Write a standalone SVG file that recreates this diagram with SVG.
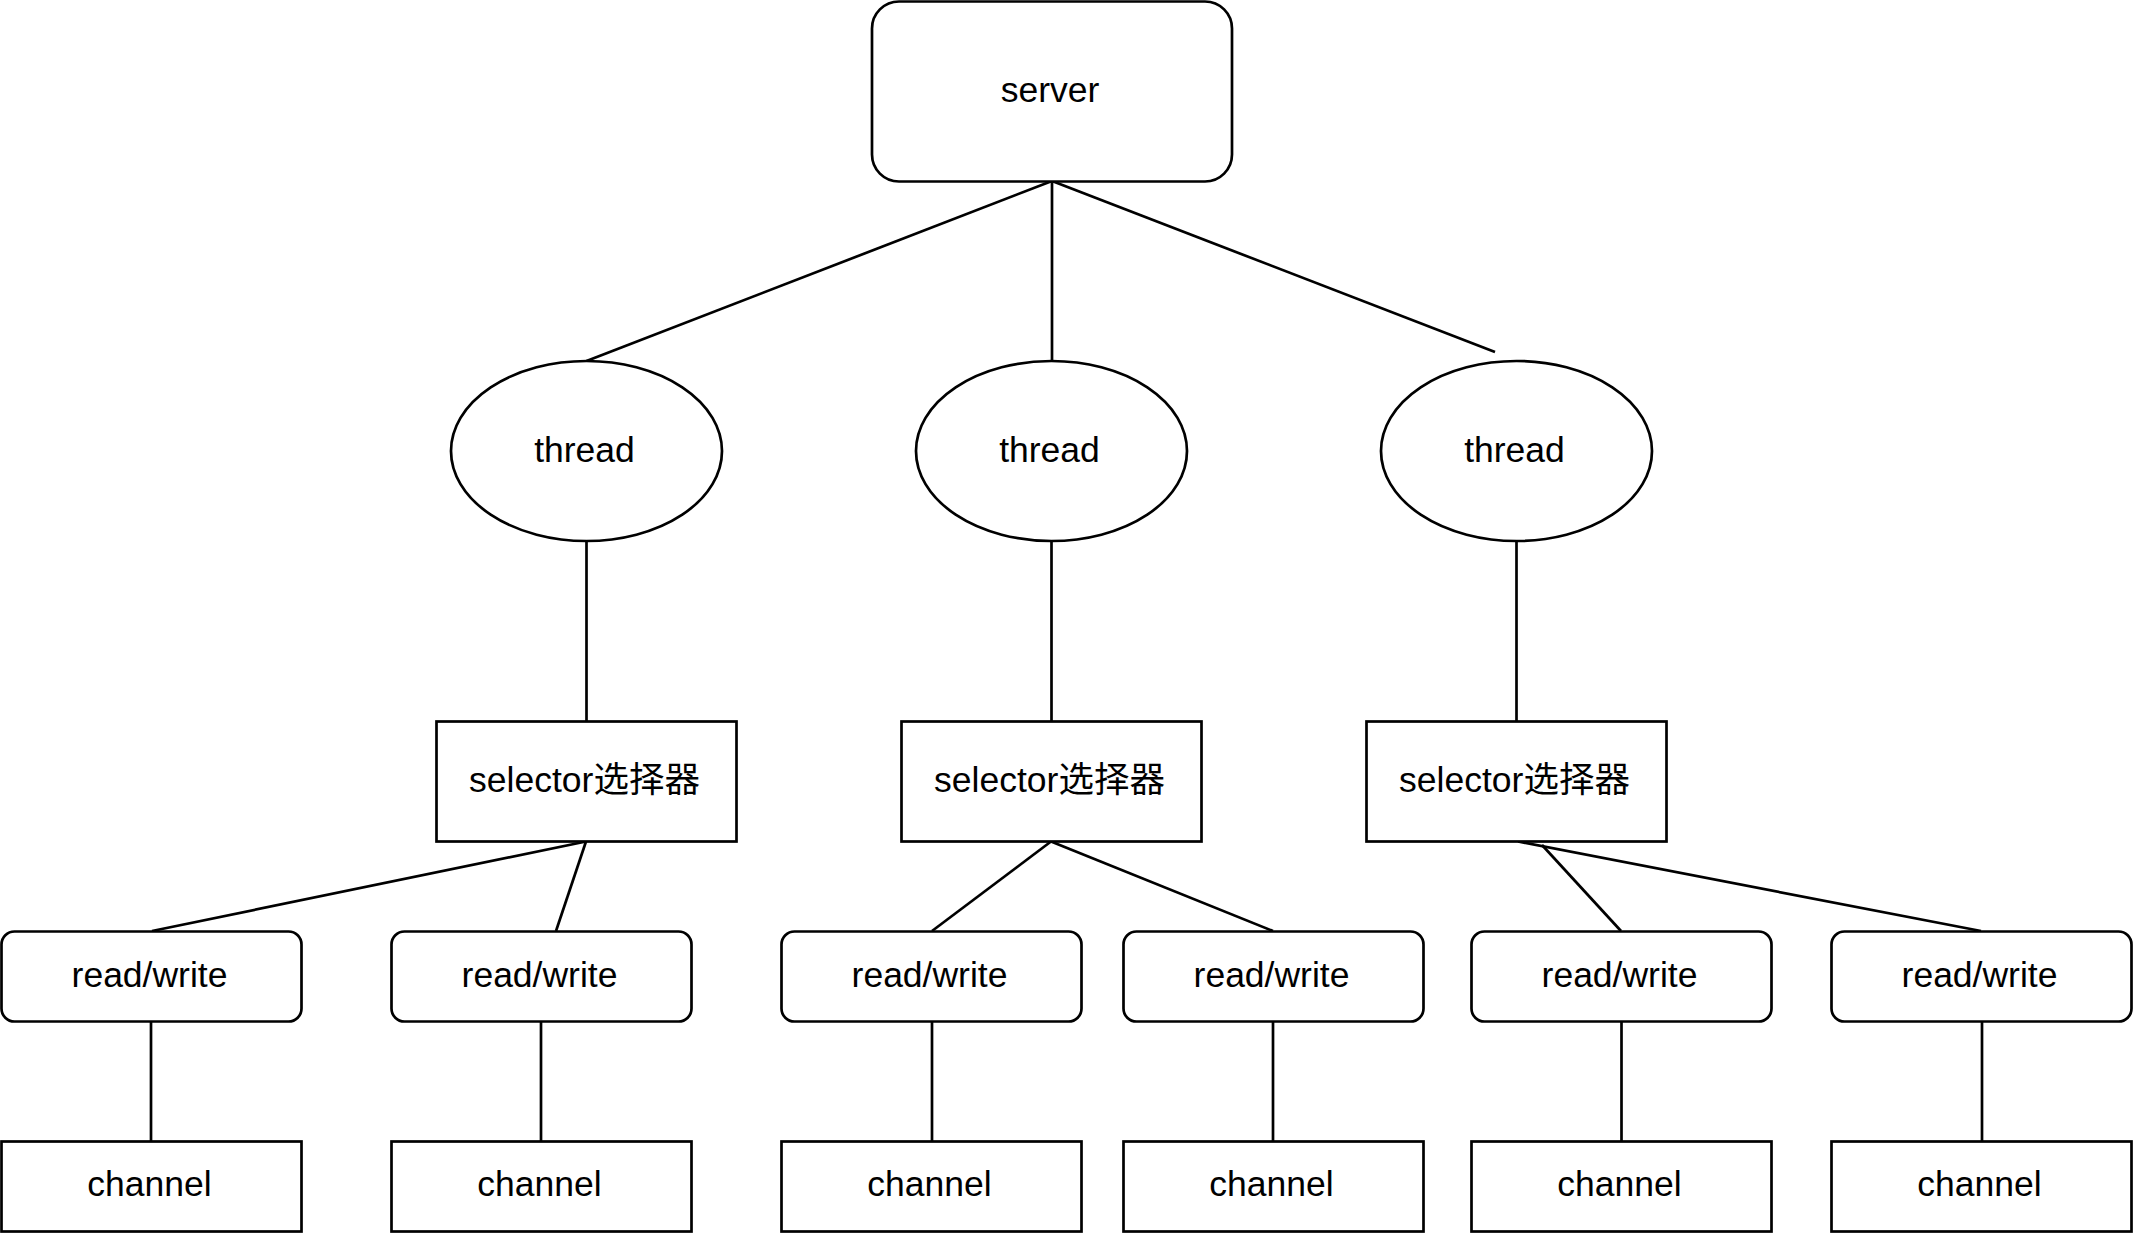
<svg xmlns="http://www.w3.org/2000/svg" width="2133" height="1233" viewBox="0 0 2133 1233">
<style>
.s{fill:#fff;stroke:#000;stroke-width:2.7}
.c{fill:none;stroke:#000;stroke-width:2.7}
text{font-family:"Liberation Sans",Arial,"Noto Sans CJK SC",sans-serif;font-size:35.5px;fill:#000;text-anchor:middle}
</style>
<rect width="2133" height="1233" fill="#fff"/>
<g id="connectors">
<line class="c" x1="1052" y1="181" x2="586.5" y2="361"/>
<line class="c" x1="1052" y1="181" x2="1052" y2="361"/>
<line class="c" x1="1052" y1="181" x2="1495" y2="352"/>
<line class="c" x1="586.5" y1="541" x2="586.5" y2="721"/>
<line class="c" x1="1051.5" y1="541" x2="1051.5" y2="721"/>
<line class="c" x1="1516.5" y1="541" x2="1516.5" y2="721"/>
<line class="c" x1="586" y1="841.5" x2="152" y2="931"/>
<line class="c" x1="586" y1="841.5" x2="556" y2="931"/>
<line class="c" x1="1051" y1="841.5" x2="932" y2="931"/>
<line class="c" x1="1051" y1="841.5" x2="1273" y2="931"/>
<line class="c" x1="1518" y1="841.5" x2="1981" y2="931"/>
<line class="c" x1="1542" y1="845" x2="1621" y2="931"/>
<line class="c" x1="151" y1="1021" x2="151" y2="1141"/>
<line class="c" x1="541" y1="1021" x2="541" y2="1141"/>
<line class="c" x1="932" y1="1021" x2="932" y2="1141"/>
<line class="c" x1="1273" y1="1021" x2="1273" y2="1141"/>
<line class="c" x1="1621.5" y1="1021" x2="1621.5" y2="1141"/>
<line class="c" x1="1982" y1="1021" x2="1982" y2="1141"/>
</g>
<g id="server"><rect class="s" x="872" y="1.5" width="360" height="180" rx="27"/><text x="1050" y="101.5">server</text></g>
<g id="thread1"><ellipse class="s" cx="586.5" cy="451" rx="135.5" ry="90"/><text x="584.5" y="461.5">thread</text></g>
<g id="thread2"><ellipse class="s" cx="1051.5" cy="451" rx="135.5" ry="90"/><text x="1049.5" y="461.5">thread</text></g>
<g id="thread3"><ellipse class="s" cx="1516.5" cy="451" rx="135.5" ry="90"/><text x="1514.5" y="461.5">thread</text></g>
<g id="selector1"><rect class="s" x="436.5" y="721.5" width="300" height="120"/><text x="584.5" y="791.5">selector选择器</text></g>
<g id="selector2"><rect class="s" x="901.5" y="721.5" width="300" height="120"/><text x="1049.5" y="791.5">selector选择器</text></g>
<g id="selector3"><rect class="s" x="1366.5" y="721.5" width="300" height="120"/><text x="1514.5" y="791.5">selector选择器</text></g>
<g id="rw1"><rect class="s" x="1.5" y="931.5" width="300" height="90" rx="13"/><text x="149.5" y="987">read/write</text></g>
<g id="rw2"><rect class="s" x="391.5" y="931.5" width="300" height="90" rx="13"/><text x="539.5" y="987">read/write</text></g>
<g id="rw3"><rect class="s" x="781.5" y="931.5" width="300" height="90" rx="13"/><text x="929.5" y="987">read/write</text></g>
<g id="rw4"><rect class="s" x="1123.5" y="931.5" width="300" height="90" rx="13"/><text x="1271.5" y="987">read/write</text></g>
<g id="rw5"><rect class="s" x="1471.5" y="931.5" width="300" height="90" rx="13"/><text x="1619.5" y="987">read/write</text></g>
<g id="rw6"><rect class="s" x="1831.5" y="931.5" width="300" height="90" rx="13"/><text x="1979.5" y="987">read/write</text></g>
<g id="ch1"><rect class="s" x="1.5" y="1141.5" width="300" height="90"/><text x="149.5" y="1196">channel</text></g>
<g id="ch2"><rect class="s" x="391.5" y="1141.5" width="300" height="90"/><text x="539.5" y="1196">channel</text></g>
<g id="ch3"><rect class="s" x="781.5" y="1141.5" width="300" height="90"/><text x="929.5" y="1196">channel</text></g>
<g id="ch4"><rect class="s" x="1123.5" y="1141.5" width="300" height="90"/><text x="1271.5" y="1196">channel</text></g>
<g id="ch5"><rect class="s" x="1471.5" y="1141.5" width="300" height="90"/><text x="1619.5" y="1196">channel</text></g>
<g id="ch6"><rect class="s" x="1831.5" y="1141.5" width="300" height="90"/><text x="1979.5" y="1196">channel</text></g>
</svg>
